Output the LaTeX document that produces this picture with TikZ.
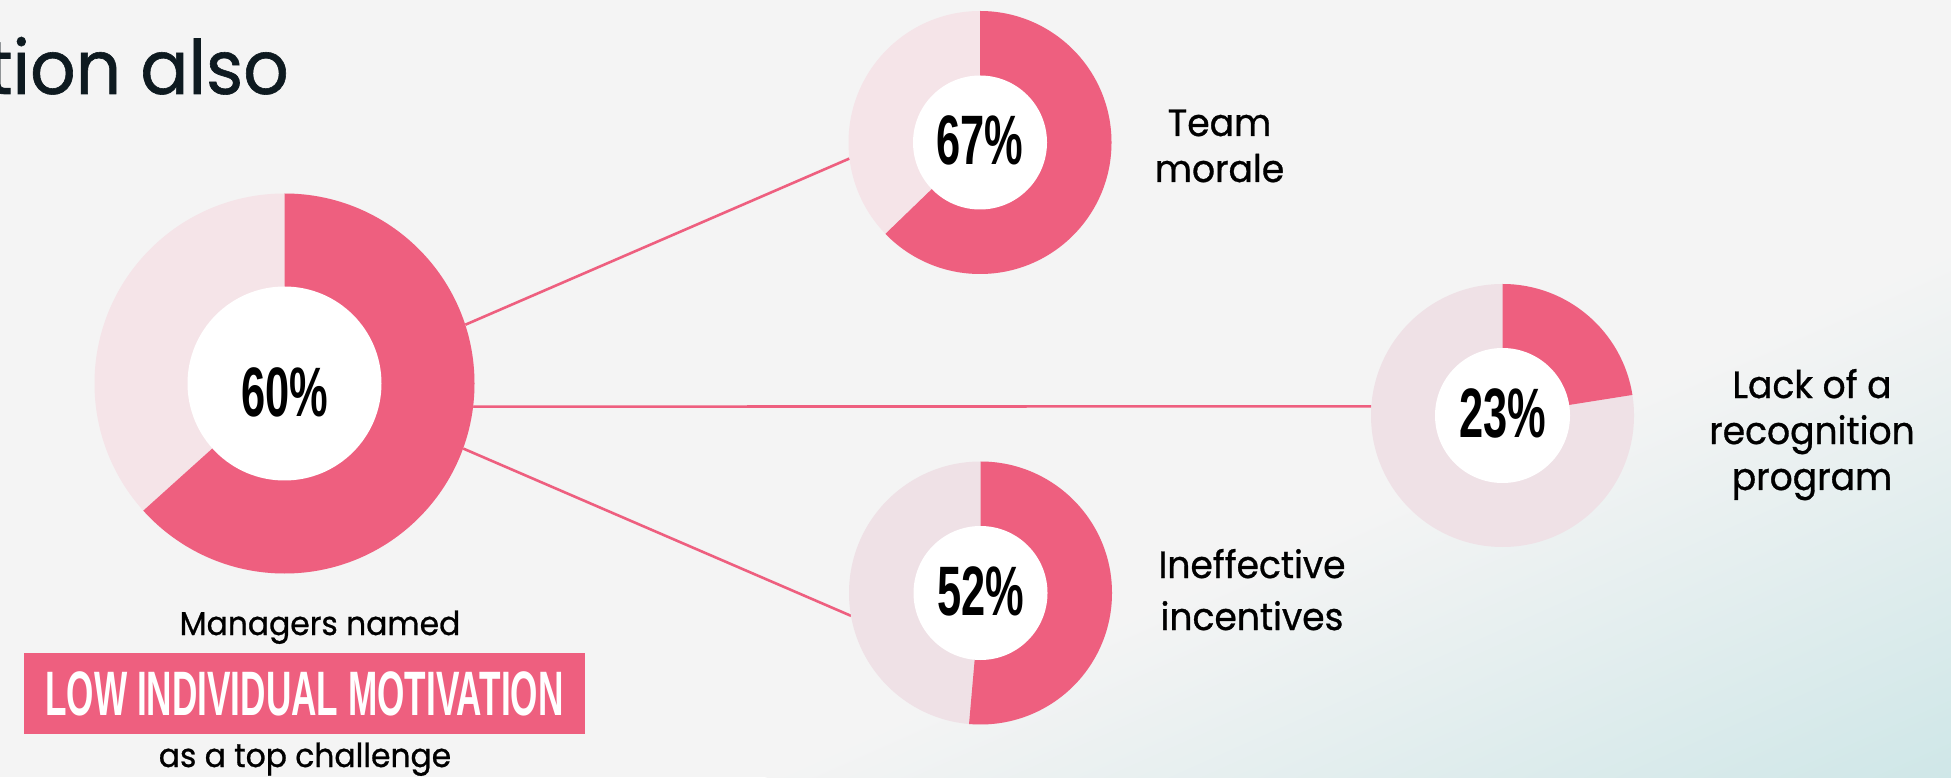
\documentclass[tikz,border=0pt]{standalone}
\usepackage{fontspec}
\setmainfont{Poppins}
\newfontfamily\lblfont[FakeBold=0.8,FakeStretch=0.95]{Poppins}
\newfontfamily\pctfont[FakeStretch=0.62]{Liberation Sans}
\newfontfamily\boxfont[FakeStretch=0.56]{Liberation Sans}
\definecolor{bg}{HTML}{F4F4F4}
\definecolor{tealbg}{HTML}{CDE6E7}
\definecolor{pinkA}{HTML}{EE5F7F}
\definecolor{lightA}{HTML}{F5E4E8}
\definecolor{lightB}{HTML}{EFE1E6}
\definecolor{ink}{HTML}{0E1A20}
\begin{document}
\begin{tikzpicture}[x=1pt,y=1pt,
  ring/.style={circle, inner sep=0pt, outer sep=0pt, minimum size=#1},
  link/.style={draw=pinkA, line width=2.6pt},
  pct/.style={font=\pctfont\bfseries\fontsize{70}{70}\selectfont, text=black, inner sep=0pt, anchor=base},
  lbl/.style={font=\lblfont\fontsize{38}{46}\selectfont, text=black, align=center, inner sep=0pt, anchor=base},
  sub/.style={font=\lblfont\fontsize{33}{40}\selectfont, text=black, inner sep=0pt, anchor=base},
]
\useasboundingbox (0,0) rectangle (1951,777);
% background
\begin{scope}
\clip (0,0) rectangle (1951,777);
\fill[bg] (0,0) rectangle (1951,777);
\begin{scope}[transform canvas={shift={(1951,527)}, rotate=-66}]
\shade[left color=bg, right color=tealbg] (0,-2500) rectangle (508,2500);
\fill[tealbg] (507,-2500) rectangle (2500,2500);
\end{scope}
\end{scope}
% header fragment
\node[font=\lblfont\fontsize{75}{75}\selectfont, text=ink, inner sep=0pt, anchor=base east] (head) at (289,683) {tion also};
% donut frames
\node[ring=380] (big) at (284.5,393.5) {};
\node[ring=263] (top) at (980,634.5) {};
\node[ring=263] (bot) at (980.5,184) {};
\node[ring=263] (rgt) at (1502.5,361.5) {};
% connectors
\draw[link] (big.18) -- (top.187);
\draw[link] (big.-7.1) -- (rgt.176.3);
\draw[link] (big.-20.5) -- (bot.190);
% big donut
\fill[lightA] (big.center) circle[radius=190];
\fill[pinkA] (big.center) -- (big.90) arc[start angle=90, end angle=-138, radius=190] -- cycle;
\fill[white] (big.center) circle[radius=97];
\node[pct] (p60) at ([yshift=-33]big.center) {60\%};
% top donut
\fill[lightA] (top.center) circle[radius=131.5];
\fill[pinkA] (top.center) -- (top.90) arc[start angle=90, end angle=-136, radius=131.5] -- cycle;
\fill[white] (top.center) circle[radius=67];
\node[pct] (p67) at ([yshift=-22]top.center) {67\%};
% bottom donut
\fill[lightB] (bot.center) circle[radius=131.5];
\fill[pinkA] (bot.center) -- (bot.90) arc[start angle=90, end angle=-95, radius=131.5] -- cycle;
\fill[white] (bot.center) circle[radius=67];
\node[pct] (p52) at ([yshift=-22]bot.center) {52\%};
% right donut
\fill[lightB] (rgt.center) circle[radius=131.5];
\fill[pinkA] (rgt.center) -- (rgt.90) arc[start angle=90, end angle=9, radius=131.5] -- cycle;
\fill[white] (rgt.center) circle[radius=67.5];
\node[pct] (p23) at ([yshift=-22]rgt.center) {23\%};
% labels (anchor base = baseline of the last line)
\node[lbl] (lteam) at (1219.5,595) {Team\\morale};
\node[lbl] (lrec) at (1812,287) {Lack of a\\recognition\\program};
\node[lbl, font=\lblfont\fontsize{38}{52}\selectfont] (linc) at (1252,147) {Ineffective\\incentives};
% caption
\node[sub] (mgr) at (320,142) {Managers named};
\node[fill=pinkA, minimum width=561, minimum height=81, inner sep=0pt, text=white,
      font=\boxfont\bfseries\fontsize{62.8}{62.8}\selectfont] (box) at (304.5,83.5) {LOW INDIVIDUAL MOTIVATION};
\node[sub] (chal) at (305,10) {as a top challenge};
\end{tikzpicture}
\end{document}
